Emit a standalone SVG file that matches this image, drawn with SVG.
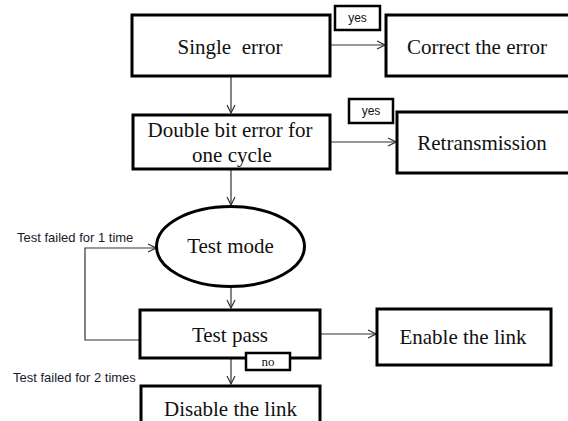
<svg xmlns="http://www.w3.org/2000/svg" width="568" height="421" viewBox="0 0 568 421">
  <style>
    .box { fill: #ffffff; stroke: #000000; stroke-width: 3; }
    .tag { fill: #ffffff; stroke: #000000; stroke-width: 2.5; }
    .lbl { font-family: "Liberation Serif", "Times New Roman", serif; font-size: 21px; fill: #111111; text-anchor: middle; }
    .small { font-family: "Liberation Sans", Arial, sans-serif; font-size: 13px; fill: #1a1a2e; }
    .tagtxt { font-family: "Liberation Sans", Arial, sans-serif; font-size: 12px; fill: #111111; text-anchor: middle; }
    .tagserif { font-family: "Liberation Serif", "Times New Roman", serif; font-size: 13px; fill: #111111; text-anchor: middle; }
    .wire { fill: none; stroke: #333333; stroke-width: 1.2; }
  </style>
  <defs>
    <marker id="open" markerWidth="10" markerHeight="10" refX="9" refY="5" orient="auto" markerUnits="userSpaceOnUse">
      <path d="M1,1 L9,5 L1,9" fill="none" stroke="#333333" stroke-width="1.2"/>
    </marker>
  </defs>

  <!-- connectors -->
  <g id="connectors">
    <line class="wire" x1="331" y1="45" x2="385" y2="45" marker-end="url(#open)"/>
    <line class="wire" x1="231" y1="76" x2="231" y2="113" marker-end="url(#open)"/>
    <line class="wire" x1="331" y1="142" x2="396" y2="142" marker-end="url(#open)"/>
    <line class="wire" x1="231" y1="169" x2="231" y2="205" marker-end="url(#open)"/>
    <line class="wire" x1="231" y1="287" x2="231" y2="308" marker-end="url(#open)"/>
    <line class="wire" x1="321" y1="334" x2="376" y2="334" marker-end="url(#open)"/>
    <line class="wire" x1="231" y1="358" x2="231" y2="384" marker-end="url(#open)"/>
    <polyline class="wire" points="139,340 85,340 85,248 156,248" marker-end="url(#open)"/>
  </g>

  <g id="single-error">
    <rect class="box" x="132" y="15" width="198" height="61"/>
    <text class="lbl" x="230" y="54" xml:space="preserve">Single  error</text>
  </g>

  <g id="yes-1">
    <rect class="tag" x="335" y="6" width="45" height="24"/>
    <text class="tagtxt" x="357.5" y="22">yes</text>
  </g>

  <g id="correct-error">
    <rect class="box" x="386" y="15" width="190" height="61"/>
    <text class="lbl" x="477" y="54">Correct the error</text>
  </g>

  <g id="double-bit">
    <rect class="box" x="133" y="115" width="197" height="54"/>
    <text class="lbl" x="230" y="137">Double bit error for</text>
    <text class="lbl" x="232" y="162">one cycle</text>
  </g>

  <g id="yes-2">
    <rect class="tag" x="349" y="99" width="44" height="24"/>
    <text class="tagtxt" x="371" y="115">yes</text>
  </g>

  <g id="retransmission">
    <rect class="box" x="397" y="112" width="180" height="61"/>
    <text class="lbl" x="482" y="150">Retransmission</text>
  </g>

  <g id="test-mode">
    <ellipse cx="230.5" cy="246.5" rx="74" ry="40" fill="#ffffff" stroke="#000000" stroke-width="3"/>
    <text class="lbl" x="230.5" y="253">Test mode</text>
  </g>

  <g id="fail-1">
    <text class="small" x="17" y="242">Test failed for 1 time</text>
  </g>

  <g id="test-pass">
    <rect class="box" x="140" y="310" width="180" height="48"/>
    <text class="lbl" x="230" y="342">Test pass</text>
  </g>

  <g id="enable-link">
    <rect class="box" x="377" y="309" width="174" height="56"/>
    <text class="lbl" x="463" y="344">Enable the link</text>
  </g>

  <g id="no-tag">
    <rect class="tag" x="246" y="353" width="44" height="17"/>
    <text class="tagserif" x="268" y="366">no</text>
  </g>

  <g id="fail-2">
    <text class="small" x="13" y="382">Test failed for 2 times</text>
  </g>

  <g id="disable-link">
    <rect class="box" x="141" y="386" width="179" height="50"/>
    <text class="lbl" x="230.5" y="416">Disable the link</text>
  </g>
</svg>
